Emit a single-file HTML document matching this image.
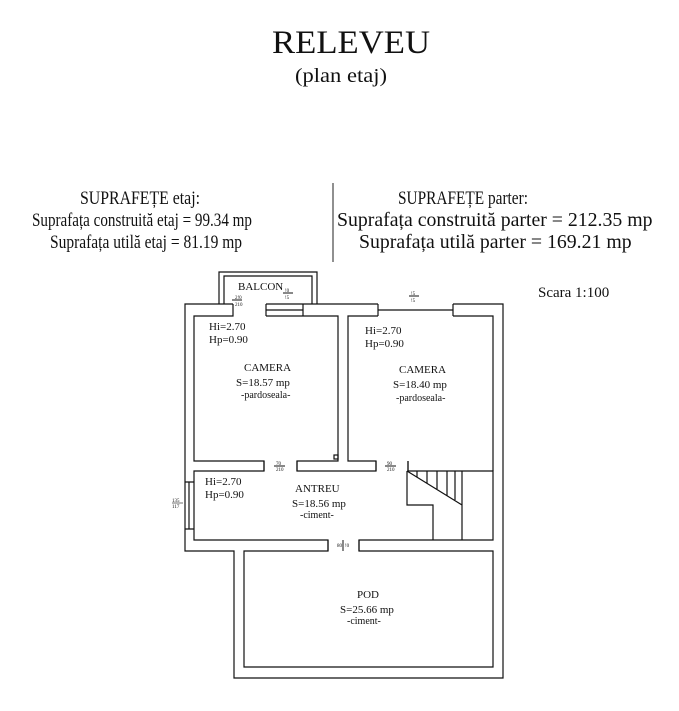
<!DOCTYPE html>
<html><head><meta charset="utf-8"><style>
html,body{margin:0;padding:0;background:#fff;}
svg{display:block}
text{font-family:"Liberation Serif",serif;fill:#111}
</style></head><body>
<svg width="679" height="711" viewBox="0 0 679 711" xmlns="http://www.w3.org/2000/svg">
<text x="272" y="53" font-size="33" textLength="158" lengthAdjust="spacingAndGlyphs">RELEVEU</text>
<text x="295" y="82" font-size="20" textLength="92" lengthAdjust="spacingAndGlyphs">(plan etaj)</text>

<text x="80" y="204" font-size="19" textLength="120" lengthAdjust="spacingAndGlyphs">SUPRAFEȚE etaj:</text>
<text x="32" y="226" font-size="19" textLength="220" lengthAdjust="spacingAndGlyphs">Suprafața construită etaj = 99.34 mp</text>
<text x="50" y="248" font-size="19" textLength="192" lengthAdjust="spacingAndGlyphs">Suprafața utilă etaj = 81.19 mp</text>
<line x1="333" y1="183" x2="333" y2="262" stroke="#222" stroke-width="1"/>
<text x="398" y="204" font-size="19" textLength="130" lengthAdjust="spacingAndGlyphs">SUPRAFEȚE parter:</text>
<text x="337" y="226" font-size="19.8">Suprafața construită parter = 212.35 mp</text>
<text x="359" y="248" font-size="19.8">Suprafața utilă parter = 169.21 mp</text>
<text x="538" y="297" font-size="15">Scara 1:100</text>

<g fill="none" stroke="#111" stroke-width="1.2">
<path d="M219 304 V272 H317 V304"/>
<path d="M224 304 V276 H312 V304"/>
<path d="M233 304 H185 V551 H234 V678 H503 V304 H453"/>
<path d="M266 304 H378"/>
<path d="M266 304 V316 M303 304 V316 M266 310 H303"/>
<path d="M378 304 V316 M453 304 V316 M378 310 H453"/>
<path d="M233 304 V316 H194 V461 H264 V471 H194 V540 H328 V551 H244 V667 H493 V551 H359 V540 H493 V471 H408 V461"/>
<path d="M266 316 H338 V461 H297 V471 H376 V461 H348 V316 H378"/>
<path d="M453 316 H493 V471"/>
<path d="M264 461 V471 M297 461 V471"/>
<path d="M376 461 V471 M408 461 V471"/>
<path d="M328 540 V551 M359 540 V551"/>
<path d="M185 482 H194 M185 529 H194 M189 482 V529"/>
<path d="M407 471 V505 H433 V540 M462 471 V540 M407 471 L462 505"/>
<path d="M417 471 V477 M427 471 V483 M437 471 V489 M447 471 V496 M455 471 V500"/>
<rect x="334" y="455" width="4" height="4"/>
</g>
<g stroke="#111" stroke-width="1">
<line x1="232" y1="300" x2="242" y2="300"/>
<line x1="283" y1="293" x2="293" y2="293"/>
<line x1="409" y1="296" x2="419" y2="296"/>
<line x1="274" y1="466" x2="285" y2="466"/>
<line x1="385" y1="466" x2="396" y2="466"/>
<line x1="343" y1="540" x2="343" y2="551"/>
</g>
<g font-size="5">
<text x="235" y="299">2!0</text><text x="235" y="306">210</text>
<text x="285" y="292">!0</text><text x="285" y="299">!5</text>
<text x="411" y="295">!5</text><text x="411" y="302">!5</text>
<text x="276" y="465">70</text><text x="276" y="471">210</text>
<text x="387" y="465">90</text><text x="387" y="471">210</text>
<text x="337" y="547">80</text><text x="345" y="547">!0</text>
<text x="172" y="502">135</text><text x="172" y="508">117</text>
</g>
<line x1="172" y1="503" x2="183" y2="503" stroke="#111" stroke-width="0.6"/>

<g font-size="11">
<text x="238" y="290">BALCON</text>
<text x="209" y="330">Hi=2.70</text><text x="209" y="343">Hp=0.90</text>
<text x="244" y="371">CAMERA</text>
<text x="236" y="386">S=18.57 mp</text>
<text x="241" y="398" font-size="10">-pardoseala-</text>
<text x="365" y="334">Hi=2.70</text><text x="365" y="347">Hp=0.90</text>
<text x="399" y="373">CAMERA</text>
<text x="393" y="388">S=18.40 mp</text>
<text x="396" y="401" font-size="10">-pardoseala-</text>
<text x="205" y="485">Hi=2.70</text><text x="205" y="498">Hp=0.90</text>
<text x="295" y="492">ANTREU</text>
<text x="292" y="507">S=18.56 mp</text>
<text x="300" y="518" font-size="10">-ciment-</text>
<text x="357" y="598">POD</text>
<text x="340" y="613">S=25.66 mp</text>
<text x="347" y="624" font-size="10">-ciment-</text>
</g>
</svg>
</body></html>
